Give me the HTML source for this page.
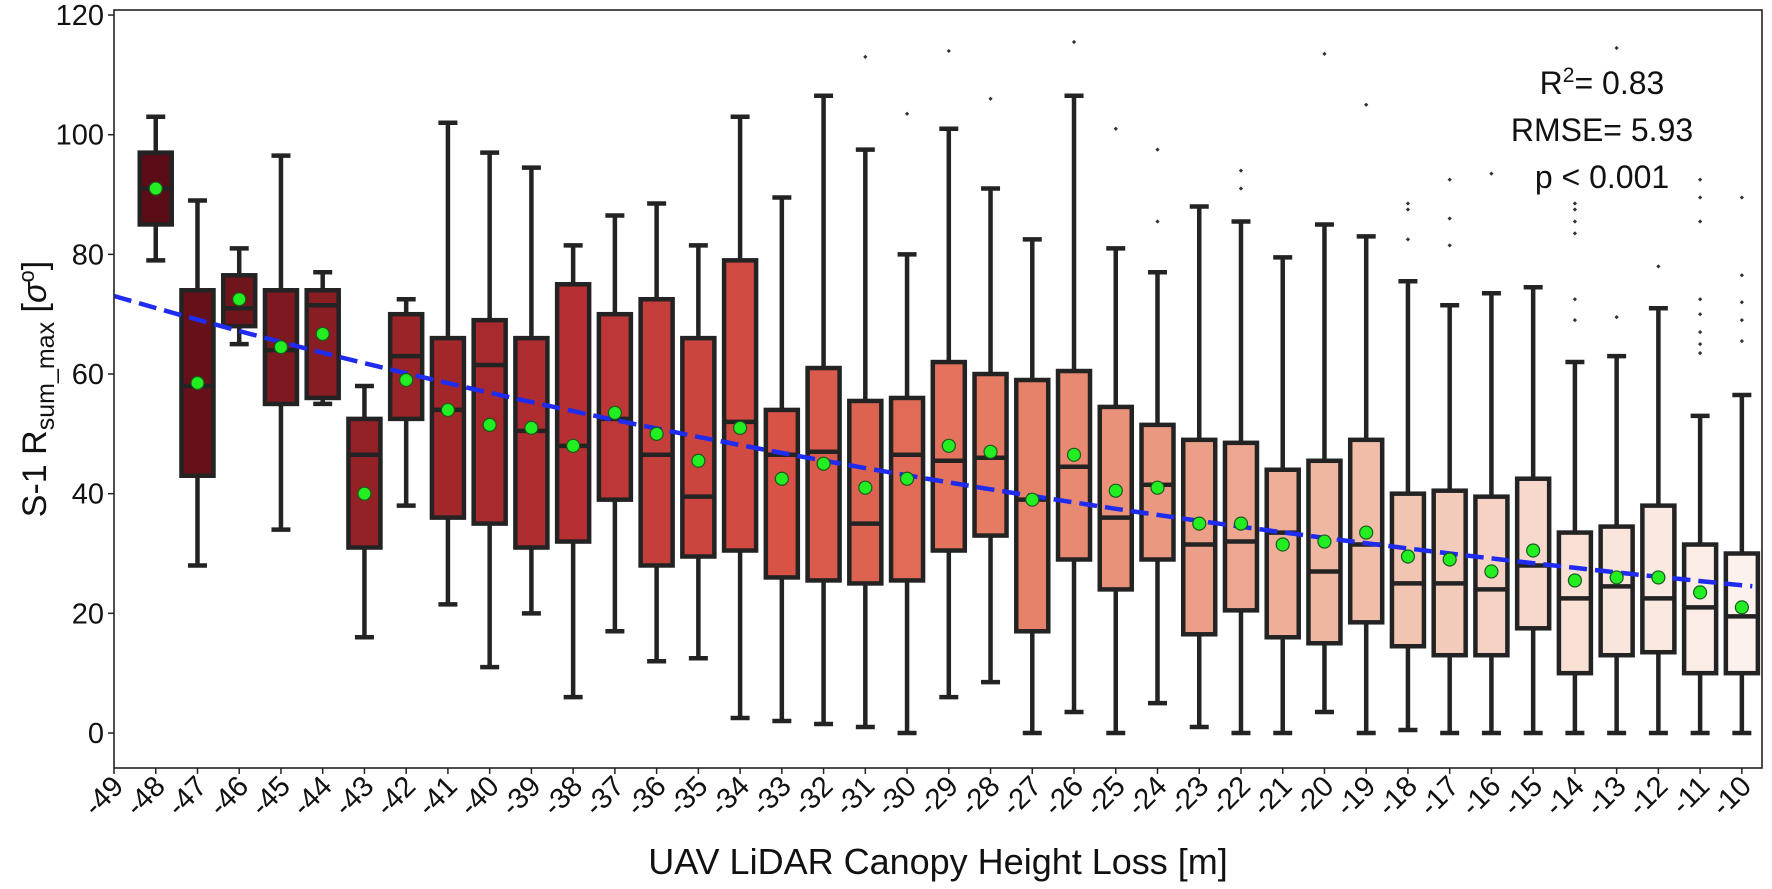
<!DOCTYPE html>
<html><head><meta charset="utf-8"><style>
html,body{margin:0;padding:0;background:#fff;}
svg{display:block;font-family:"Liberation Sans","DejaVu Sans",sans-serif;}
</style></head><body>
<svg id="chart" width="1772" height="889" viewBox="0 0 1772 889" xmlns="http://www.w3.org/2000/svg">
<rect x="0" y="0" width="1772" height="889" fill="#fff"/>
<g id="boxes"></g>
<g id="trend"></g>
<g id="means"></g>
<rect x="114" y="10" width="1648" height="758" fill="none" stroke="#222" stroke-width="1.6"/>
<g id="yticks"></g>
<g id="xticks"></g>
<text transform="translate(46,389) rotate(-90)" text-anchor="middle" font-size="34" fill="#111">S-1 R<tspan font-size="25" dy="8">sum_max</tspan><tspan dy="-8"> [</tspan><tspan font-style="italic">σ</tspan><tspan font-size="22" dy="-12">o</tspan><tspan dy="12">]</tspan></text>
<text x="938" y="874" text-anchor="middle" font-size="36" fill="#111">UAV LiDAR Canopy Height Loss [m]</text>
<g font-size="32" fill="#111" text-anchor="middle">
<text x="1602" y="94">R<tspan font-size="21" dy="-12">2</tspan><tspan dy="12">= 0.83</tspan></text>
<text x="1602" y="141">RMSE= 5.93</text>
<text x="1602" y="188">p &lt; 0.001</text>
</g>
</svg>
<script>
const categories=[-48,-47,-46,-45,-44,-43,-42,-41,-40,-39,-38,-37,-36,-35,-34,-33,-32,-31,-30,-29,-28,-27,-26,-25,-24,-23,-22,-21,-20,-19,-18,-17,-16,-15,-14,-13,-12,-11,-10];
const q1=[85,43,68,55,56,31,52.5,36,35,31,32,39,28,29.5,30.5,26,25.5,25,25.5,30.5,33,17,29,24,29,16.5,20.5,16,15,18.5,14.5,13,13,17.5,10,13,13.5,10,10];
const medians=[91,58,71,64,71.5,46.5,63,54,61.5,50.5,48,52.5,46.5,39.5,52,46.5,47,35,46.5,45.5,46,39,44.5,36,41.5,31.5,32,33.5,27,31.5,25,25,24,28,22.5,24.5,22.5,21,19.5];
const q3=[97,74,76.5,74,74,52.5,70,66,69,66,75,70,72.5,66,79,54,61,55.5,56,62,60,59,60.5,54.5,51.5,49,48.5,44,45.5,49,40,40.5,39.5,42.5,33.5,34.5,38,31.5,30];
const whiskLow=[79,28,65,34,55,16,38,21.5,11,20,6,17,12,12.5,2.5,2,1.5,1,0,6,8.5,0,3.5,0,5,1,0,0,3.5,0,0.5,0,0,0,0,0,0,0,0];
const whiskHigh=[103,89,81,96.5,77,58,72.5,102,97,94.5,81.5,86.5,88.5,81.5,103,89.5,106.5,97.5,80,101,91,82.5,106.5,81,77,88,85.5,79.5,85,83,75.5,71.5,73.5,74.5,62,63,71,53,56.5];
const means=[91,58.5,72.5,64.5,66.7,40,59,54,51.5,51,48,53.5,50,45.5,51,42.5,45,41,42.5,48,47,39,46.5,40.5,41,35,35,31.5,32,33.5,29.5,29,27,30.5,25.5,26,26,23.5,21];
const outliers=[[],[],[],[],[],[],[],[],[],[],[],[],[],[],[],[],[],[113],[103.5],[114],[106],[],[115.5],[101],[85.5,97.5],[],[91,94],[],[113.5],[105],[82.5,87.5,88.5],[81.5,86,92.5],[93.5],[],[69,72.5,83.5,85.5,87.5,88.5],[69.5,114.5],[78],[63.5,65,67,70,72.5,85.5,89.5,92.5],[65.5,69,72,76.5,89.5]];
const xTickLabels=[-49,-48,-47,-46,-45,-44,-43,-42,-41,-40,-39,-38,-37,-36,-35,-34,-33,-32,-31,-30,-29,-28,-27,-26,-25,-24,-23,-22,-21,-20,-19,-18,-17,-16,-15,-14,-13,-12,-11,-10];
const yTickLabels=[0,20,40,60,80,100,120];
const fitA=[24.7];   // value of fit at x=-10 reference
const fitB=[0.0278]; // exponential rate

const NS="http://www.w3.org/2000/svg";
const X=v=>114+(v+49)*41.74;
const Y=v=>733-v*5.983;
function el(tag,attrs,parent){const e=document.createElementNS(NS,tag);for(const k in attrs)e.setAttribute(k,attrs[k]);parent.appendChild(e);return e;}
const stops=[[255,245,240],[254,224,210],[252,187,161],[252,146,114],[251,106,74],[239,59,44],[203,24,29],[165,15,21],[103,0,13]];
function reds(t){const p=t*8,i=Math.min(7,Math.floor(p)),f=p-i;const c=stops[i].map((a,k)=>a+(stops[i+1][k]-a)*f);
 let [r,g,b]=c.map(v=>v/255);const mx=Math.max(r,g,b),mn=Math.min(r,g,b),l=(mx+mn)/2;let s=0,h=0;
 if(mx!==mn){const d=mx-mn;s=l>0.5?d/(2-mx-mn):d/(mx+mn);if(mx===r)h=(g-b)/d+(g<b?6:0);else if(mx===g)h=(b-r)/d+2;else h=(r-g)/d+4;h/=6;}
 s*=0.75;const q=l<0.5?l*(1+s):l+s-l*s,pp=2*l-q;const hue=t=>{if(t<0)t+=1;if(t>1)t-=1;if(t<1/6)return pp+(q-pp)*6*t;if(t<1/2)return q;if(t<2/3)return pp+(q-pp)*(2/3-t)*6;return pp;};
 return `rgb(${Math.round(hue(h+1/3)*255)},${Math.round(hue(h)*255)},${Math.round(hue(h-1/3)*255)})`;}

const boxes=document.getElementById('boxes'),meansG=document.getElementById('means');
const n=categories.length,bw=32,cw=17,ec="#232323";
categories.forEach((c,i)=>{
 const cx=X(c),t=1-i/(n-1)*0.97;
 const g=el('g',{},boxes);
 
 
 const w1=el('line',{x1:cx,x2:cx,y1:Y(q1[i]),y2:Y(whiskLow[i]),stroke:ec,'stroke-width':4.5},g);
 
 
 const w2=el('line',{x1:cx,x2:cx,y1:Y(q3[i]),y2:Y(whiskHigh[i]),stroke:ec,'stroke-width':4.5},g);
 
 
 [whiskLow[i],whiskHigh[i]].forEach(v=>{const cp=el('line',{x1:cx-cw/2-1,x2:cx+cw/2+1,y1:Y(v),y2:Y(v),stroke:ec,'stroke-width':4.5},g);
  
  });
 const r=el('rect',{x:cx-bw/2,y:Y(q3[i]),width:bw,height:Y(q1[i])-Y(q3[i]),fill:reds(t),stroke:ec,'stroke-width':4.5},g);
 
 
 const m=el('line',{x1:cx-bw/2,x2:cx+bw/2,y1:Y(medians[i]),y2:Y(medians[i]),stroke:ec,'stroke-width':4.5},g);
 
 
 outliers[i].forEach(v=>{const o=el('rect',{x:cx-1.5,y:Y(v)-1.5,width:3,height:3,fill:'#333',transform:`rotate(45 ${cx} ${Y(v)})`},g);
  
  });
 const d=el('circle',{cx:cx,cy:Y(means[i]),r:6.5,fill:'#22ee22',stroke:'#1a5a1a','stroke-width':1.2},meansG);
 
 
});
let pts=[];for(let v=-49;v<=-9.52;v+=0.25){pts.push(X(v).toFixed(1)+','+Y(fitA[0]*Math.exp(fitB[0]*(-10-v))).toFixed(1));}
const tl=el('polyline',{points:pts.join(' '),fill:'none',stroke:'#1f2bef','stroke-width':4.5,'stroke-dasharray':'18 8'},document.getElementById('trend'));


const yg=document.getElementById('yticks');
yTickLabels.forEach(v=>{const l=el('line',{x1:108,x2:114,y1:Y(v),y2:Y(v),stroke:'#222','stroke-width':1.5},yg);
 
 
 const t=el('text',{x:104,y:Y(v)+10,'text-anchor':'end','font-size':29,fill:'#111'},yg);
 
 
 t.textContent=v;});
const xg=document.getElementById('xticks');
xTickLabels.forEach(v=>{const x=X(v);const l=el('line',{x1:x,x2:x,y1:768,y2:774,stroke:'#222','stroke-width':1.5},xg);
 
 
 const t=el('text',{'text-anchor':'end','font-size':29,fill:'#111',transform:`translate(${x+11},${788}) rotate(-45)`},xg);
 
 
 t.textContent=v;});
</script>
</body></html>
